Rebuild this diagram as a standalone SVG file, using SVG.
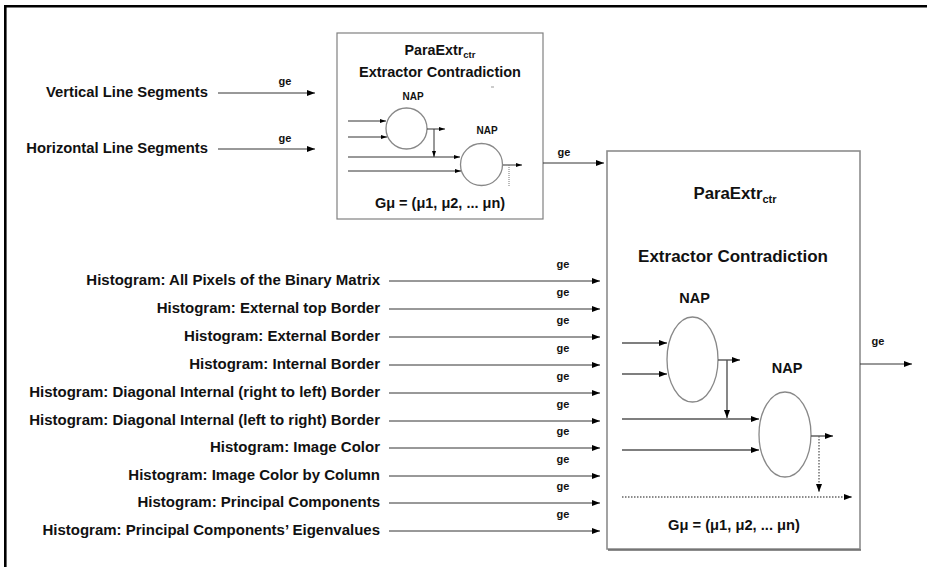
<svg xmlns="http://www.w3.org/2000/svg" width="927" height="567" viewBox="0 0 927 567">
<style>
text{font-family:"Liberation Sans",Arial,sans-serif;font-weight:bold;fill:#111}
.lbl{font-size:15px;text-anchor:end}
.lbt{font-size:14.8px;text-anchor:end}
.ge{font-size:11px;text-anchor:middle}
.ttl{text-anchor:middle}
.ln{stroke:#333;stroke-width:1;fill:none}
.inl{stroke:#555;stroke-width:1.4;fill:none}
.dot{stroke:#666;stroke-width:1.4;stroke-dasharray:1.5 1.5;fill:none}
.nap{stroke:#888;stroke-width:1.3;fill:#fff}
</style>
<defs>
<marker id="ah" viewBox="0 0 8 6" refX="8" refY="3" markerWidth="8" markerHeight="6" markerUnits="userSpaceOnUse" orient="auto"><path d="M0,0 L8,3 L0,6 z" fill="#000"/></marker>
<marker id="ahs" viewBox="0 0 6 4" refX="6" refY="2" markerWidth="6" markerHeight="4" markerUnits="userSpaceOnUse" orient="auto"><path d="M0,0 L6,2 L0,4 z" fill="#000"/></marker>
</defs>
<rect width="927" height="567" fill="#fff"/>
<g id="frame">
<line x1="4" y1="6.2" x2="927" y2="6.2" stroke="#000" stroke-width="2.6"/>
<line x1="5.3" y1="5" x2="5.3" y2="567" stroke="#000" stroke-width="2.6"/>
</g>
<g id="inputs-top">
<text class="lbt" x="208" y="97">Vertical Line Segments</text>
<text class="lbt" x="208" y="153">Horizontal Line Segments</text>
</g>
<g id="inputs-hist">
<text class="lbl" x="380" y="285">Histogram: All Pixels of the Binary Matrix</text>
<text class="lbl" x="380" y="313">Histogram: External top Border</text>
<text class="lbl" x="380" y="341">Histogram: External Border</text>
<text class="lbl" x="380" y="369">Histogram: Internal Border</text>
<text class="lbl" x="380" y="397">Histogram: Diagonal Internal (right to left) Border</text>
<text class="lbl" x="380" y="425">Histogram: Diagonal Internal (left to right) Border</text>
<text class="lbl" x="380" y="452">Histogram: Image Color</text>
<text class="lbl" x="380" y="480">Histogram: Image Color by Column</text>
<text class="lbl" x="380" y="507">Histogram: Principal Components</text>
<text class="lbl" x="380" y="535">Histogram: Principal Components’ Eigenvalues</text>
</g>
<g id="small-box">
<rect x="337" y="33" width="206" height="186" fill="#fff" stroke="#808080" stroke-width="1.2"/>
<text class="ttl" x="440" y="55" font-size="14.3">ParaExtr<tspan font-size="9.5" dy="3">ctr</tspan></text>
<text class="ttl" x="440" y="77" font-size="14.5">Extractor Contradiction</text>
<line x1="491" y1="87" x2="494" y2="87" stroke="#999" stroke-width="1"/>
<text class="ttl" x="413" y="100" font-size="10">NAP</text>
<text class="ttl" x="487" y="134" font-size="10">NAP</text>
<circle class="nap" cx="406.5" cy="128.5" r="20.5"/>
<circle class="nap" cx="481.5" cy="164.5" r="21"/>
<text class="ttl" x="440" y="208" font-size="14.5">Gμ = (μ1, μ2, ... μn)</text>
</g>
<g id="large-box">
<rect x="607" y="151" width="253" height="398" fill="#fff" stroke="#8c8c8c" stroke-width="1.6"/>
<line x1="608" y1="550" x2="861" y2="550" stroke="#666" stroke-width="1.5"/>
<text class="ttl" x="735" y="199" font-size="16.8">ParaExtr<tspan font-size="11" dy="4">ctr</tspan></text>
<text class="ttl" x="733" y="262" font-size="17">Extractor Contradiction</text>
<text class="ttl" x="694.5" y="303" font-size="14.5">NAP</text>
<text class="ttl" x="787" y="373" font-size="14.5">NAP</text>
<ellipse class="nap" cx="692.5" cy="359.5" rx="25.5" ry="42.5"/>
<ellipse class="nap" cx="785" cy="434.5" rx="26" ry="42.5"/>
<text class="ttl" x="734" y="530" font-size="14.7">Gμ = (μ1, μ2, ... μn)</text>
</g>
<g id="connectors">
<line class="ln" x1="218" y1="93" x2="315" y2="93" marker-end="url(#ah)"/>
<line class="ln" x1="218" y1="149" x2="315" y2="149" marker-end="url(#ah)"/>
<line class="ln" x1="389" y1="281" x2="600" y2="281" marker-end="url(#ah)"/>
<line class="ln" x1="389" y1="309" x2="600" y2="309" marker-end="url(#ah)"/>
<line class="ln" x1="389" y1="337" x2="600" y2="337" marker-end="url(#ah)"/>
<line class="ln" x1="389" y1="365" x2="600" y2="365" marker-end="url(#ah)"/>
<line class="ln" x1="389" y1="393" x2="600" y2="393" marker-end="url(#ah)"/>
<line class="ln" x1="389" y1="421" x2="600" y2="421" marker-end="url(#ah)"/>
<line class="ln" x1="389" y1="448" x2="600" y2="448" marker-end="url(#ah)"/>
<line class="ln" x1="389" y1="476" x2="600" y2="476" marker-end="url(#ah)"/>
<line class="ln" x1="389" y1="503" x2="600" y2="503" marker-end="url(#ah)"/>
<line class="ln" x1="389" y1="531" x2="600" y2="531" marker-end="url(#ah)"/>
<line class="ln" x1="543" y1="163" x2="604" y2="163" stroke="#555" marker-end="url(#ah)"/>
<line class="ln" x1="860" y1="364" x2="912" y2="364" marker-end="url(#ah)"/>
<text class="ge" x="285" y="85">ge</text>
<text class="ge" x="285" y="142">ge</text>
<text class="ge" x="564" y="156">ge</text>
<text class="ge" x="878" y="345">ge</text>
<text class="ge" x="563" y="268">ge</text>
<text class="ge" x="563" y="296">ge</text>
<text class="ge" x="563" y="324">ge</text>
<text class="ge" x="563" y="352">ge</text>
<text class="ge" x="563" y="380">ge</text>
<text class="ge" x="563" y="408">ge</text>
<text class="ge" x="563" y="435">ge</text>
<text class="ge" x="563" y="463">ge</text>
<text class="ge" x="563" y="490">ge</text>
<text class="ge" x="563" y="518">ge</text>
<line class="ln" x1="348" y1="121" x2="386" y2="121" stroke="#555" marker-end="url(#ahs)"/>
<line class="ln" x1="348" y1="137" x2="387" y2="137" stroke="#555" marker-end="url(#ahs)"/>
<line class="ln" x1="427" y1="129" x2="445" y2="129" stroke="#555" marker-end="url(#ahs)"/>
<line class="ln" x1="434" y1="129" x2="434" y2="157" stroke="#555" marker-end="url(#ahs)"/>
<line class="ln" x1="348" y1="157" x2="460" y2="157" stroke="#555" marker-end="url(#ahs)"/>
<line class="ln" x1="348" y1="171" x2="461" y2="171" stroke="#555" marker-end="url(#ahs)"/>
<line class="ln" x1="503" y1="165" x2="522" y2="165" stroke="#555" marker-end="url(#ahs)"/>
<line x1="509" y1="165" x2="509" y2="187" stroke="#777" stroke-width="1" stroke-dasharray="1 1"/>
<line class="inl" x1="622" y1="343" x2="667" y2="343" marker-end="url(#ah)"/>
<line class="inl" x1="622" y1="374" x2="667" y2="374" marker-end="url(#ah)"/>
<line class="inl" x1="718" y1="360" x2="740" y2="360" marker-end="url(#ah)"/>
<line class="inl" x1="727" y1="360" x2="727" y2="418" marker-end="url(#ah)"/>
<line class="inl" x1="622" y1="419" x2="759" y2="419" marker-end="url(#ah)"/>
<line class="inl" x1="622" y1="450" x2="759" y2="450" marker-end="url(#ah)"/>
<line class="inl" x1="811" y1="436" x2="833" y2="436" marker-end="url(#ah)"/>
<line class="dot" x1="819" y1="436" x2="819" y2="492" marker-end="url(#ah)"/>
<line class="dot" x1="622" y1="497" x2="852" y2="497" marker-end="url(#ah)"/>
</g>
</svg>
